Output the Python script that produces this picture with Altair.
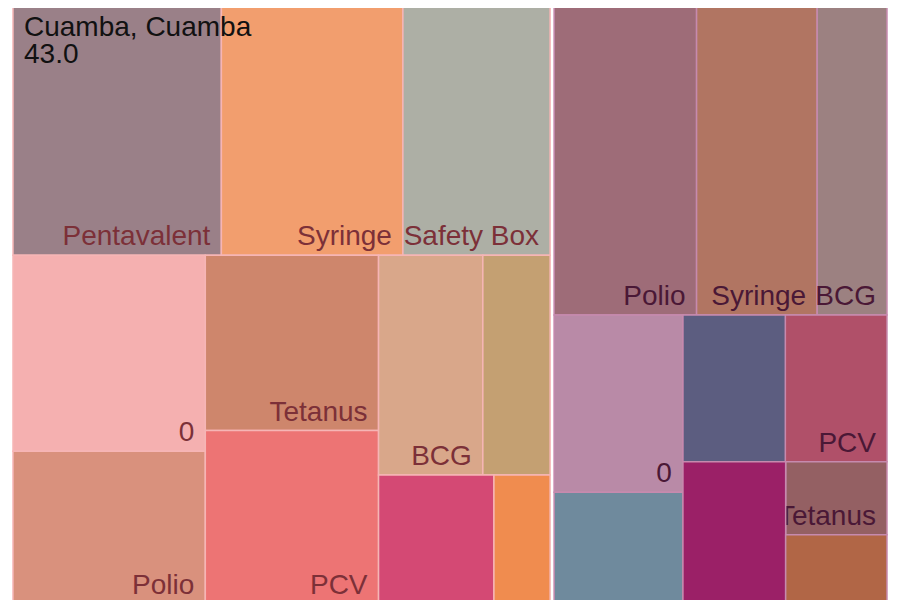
import altair as alt
import pandas as pd

# ---------------- data ----------------
GROUP_NAMES = ["Cuamba", "District 2"]

LEFT_LABELS = ["Pentavalent", "Syringe", "Safety Box", "0", "Polio", "Tetanus",
               "PCV", "BCG", "", "", ""]
LEFT_VALUES = [52.8, 46.0, 37.3, 38.0, 29.6, 30.6, 30.3, 23.1, 14.9, 15.0, 7.3]
LEFT_COLORS = ["#9a8088", "#f29e6e", "#adafa5", "#f5b0b0", "#d9917d", "#ce866c",
               "#ed7474", "#d9a78a", "#c4a072", "#d44974", "#f08c4f"]
# nesting of the leaves (indices), alternating horizontal / vertical splits
LEFT_TREE = [[0, 1, 2], [[3, 4], [5, 6], [[7, 8], [9, 10]]]]

RIGHT_LABELS = ["Polio", "Syringe", "BCG", "0", "", "", "PCV", "", "Tetanus", ""]
RIGHT_VALUES = [44.9, 38.0, 22.0, 23.1, 14.6, 15.2, 15.1, 14.8, 7.5, 7.1]
RIGHT_COLORS = ["#9e6c78", "#b17562", "#9c8181", "#b98aa7", "#6f8a9d", "#5c5d80",
                "#b05069", "#9b2067", "#946063", "#b16646"]
RIGHT_TREE = [[0, 1, 2], [[3, 4], [[5, 6], [7, [8, 9]]]]]

GROUP_SEP = ["#f6b5b5", "#c68aae"]
GROUP_TEXT = ["#7c3038", "#4a1836"]

HOVER_LINES = ["Cuamba, Cuamba", "43.0"]

# ---------------- slice-and-dice layout ----------------
def size(node, values):
    if isinstance(node, int):
        return values[node]
    return sum(size(c, values) for c in node)


def split(node, values, x0, y0, x1, y1, depth, out):
    if isinstance(node, int):
        out.append((node, x0, y0, x1, y1))
        return
    tot = size(node, values)
    pos = x0 if depth % 2 == 0 else y0
    for c in node:
        frac = size(c, values) / tot
        if depth % 2 == 0:
            w = (x1 - x0) * frac
            split(c, values, pos, y0, pos + w, y1, depth + 1, out)
        else:
            w = (y1 - y0) * frac
            split(c, values, x0, pos, x1, pos + w, depth + 1, out)
        pos += w


X0, X1, Y0, Y1 = 11.0, 889.0, 4.0, 604.0
GAP = 2.0
groups = [
    (LEFT_LABELS, LEFT_VALUES, LEFT_COLORS, LEFT_TREE),
    (RIGHT_LABELS, RIGHT_VALUES, RIGHT_COLORS, RIGHT_TREE),
]
totals = [sum(g[1]) for g in groups]
rows, grows = [], []
gx = X0
for gi, (labels, values, colors, tree) in enumerate(groups):
    w = (X1 - X0) * totals[gi] / sum(totals)
    gx0, gx1 = gx + GAP, gx + w - GAP
    gx += w
    grows.append(dict(group=GROUP_NAMES[gi], x=gx0, x2=gx1, y=Y0, y2=Y1,
                      sep=GROUP_SEP[gi]))
    out = []
    split(tree, values, gx0, Y0, gx1, Y1, 1, out)
    for idx, a, b, c, d in out:
        rows.append(dict(group=GROUP_NAMES[gi], label=labels[idx],
                         value=values[idx], color=colors[idx],
                         sep=GROUP_SEP[gi], tcolor=GROUP_TEXT[gi],
                         x=a, y=b, x2=c, y2=d))

df = pd.DataFrame(rows)
gdf = pd.DataFrame(grows)

W, H = 888, 592
xs = alt.Scale(domain=[8, 8 + W], range=[0, W], zero=False, nice=False)
ys = alt.Scale(domain=[8, 8 + H], range=[0, H], zero=False, nice=False)

bg = alt.Chart(gdf).mark_rect(clip=True).encode(
    x=alt.X("x:Q", scale=xs, axis=None),
    x2="x2:Q",
    y=alt.Y("y:Q", scale=ys, axis=None),
    y2="y2:Q",
    color=alt.Color("sep:N", scale=None),
)

cell_enc = dict(
    x=alt.X("x:Q", scale=xs, axis=None),
    x2="x2:Q",
    y=alt.Y("y:Q", scale=ys, axis=None),
    y2="y2:Q",
    color=alt.Color("color:N", scale=None),
    stroke=alt.Stroke("sep:N", scale=None),
    tooltip=["group:N", "label:N", "value:Q"],
)

# labelled cells first, then their labels, then the unlabelled cells on top
cells_lab = alt.Chart(df).transform_filter("datum.label != ''").mark_rect(
    clip=True, strokeWidth=1.5).encode(**cell_enc)
cells_unlab = alt.Chart(df).transform_filter("datum.label == ''").mark_rect(
    clip=True, strokeWidth=1.5).encode(**cell_enc)

labels = alt.Chart(df).transform_filter("datum.label != ''").mark_text(
    align="right", baseline="alphabetic", dx=-11, dy=-10,
    fontSize=28, font="Liberation Sans",
).encode(
    x=alt.X("x2:Q", scale=xs, axis=None),
    y=alt.Y("y2:Q", scale=ys, axis=None),
    text="label:N",
    color=alt.Color("tcolor:N", scale=None),
)

hover = alt.Chart(pd.DataFrame({"t": ["\n".join(HOVER_LINES)]})).mark_text(
    align="left", baseline="top", fontSize=28, font="Liberation Sans",
    lineBreak="\n", lineHeight=27, color="#111111",
).encode(x=alt.value(16), y=alt.value(6), text="t:N")

chart = alt.layer(bg, cells_lab, labels, cells_unlab, hover).properties(
    width=W, height=H, padding=0, autosize="none", background="white"
).configure_view(stroke=None)

chart.save("out.html", embed_options={"renderer": "svg", "actions": False})
